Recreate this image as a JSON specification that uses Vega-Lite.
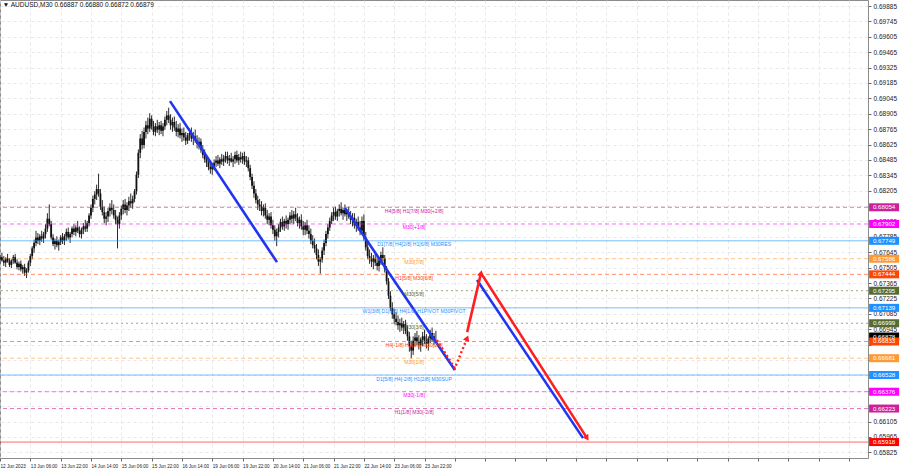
{
"$schema": "https://vega.github.io/schema/vega-lite/v6.json",
"width": 868, "height": 458,
"autosize": {"type": "none"},
"padding": {"left": 0, "top": 0, "right": 32, "bottom": 10},
"background": "#ffffff",
"config": {
 "view": {"stroke": "#8c8c8c", "strokeWidth": 1},
 "font": "Liberation Sans",
 "axis": {"labelFont": "Liberation Sans", "labelFontSize": 6.5, "labelColor": "#222222", "tickColor": "#666666", "tickSize": 3, "domain": false, "gridColor": "#dedede", "gridDash": [3, 3], "gridWidth": 0.7, "labelOverlap": false, "labelSeparation": 0, "labelBound": false, "labelFlush": false}
},
"datasets": {
 "candles": [
{"i":0,"o":0.6758,"h":0.6762,"l":0.6754,"c":0.6760},
{"i":2,"o":0.6760,"h":0.6764,"l":0.6756,"c":0.6757},
{"i":4,"o":0.6757,"h":0.6761,"l":0.6752,"c":0.6755},
{"i":6,"o":0.6755,"h":0.6760,"l":0.6751,"c":0.6759},
{"i":8,"o":0.6759,"h":0.6763,"l":0.6755,"c":0.6756},
{"i":10,"o":0.6756,"h":0.6759,"l":0.6751,"c":0.6753},
{"i":12,"o":0.6753,"h":0.6758,"l":0.6750,"c":0.6757},
{"i":14,"o":0.6757,"h":0.6762,"l":0.6754,"c":0.6760},
{"i":16,"o":0.6760,"h":0.6763,"l":0.6754,"c":0.6755},
{"i":18,"o":0.6755,"h":0.6758,"l":0.6749,"c":0.6751},
{"i":20,"o":0.6751,"h":0.6756,"l":0.6748,"c":0.6754},
{"i":22,"o":0.6754,"h":0.6757,"l":0.6747,"c":0.6749},
{"i":24,"o":0.6749,"h":0.6753,"l":0.6745,"c":0.6751},
{"i":26,"o":0.6751,"h":0.6754,"l":0.6743,"c":0.6746},
{"i":28,"o":0.6746,"h":0.6750,"l":0.6741,"c":0.6748},
{"i":30,"o":0.6748,"h":0.6757,"l":0.6746,"c":0.6755},
{"i":32,"o":0.6755,"h":0.6763,"l":0.6752,"c":0.6761},
{"i":34,"o":0.6761,"h":0.6770,"l":0.6758,"c":0.6768},
{"i":36,"o":0.6768,"h":0.6776,"l":0.6764,"c":0.6773},
{"i":38,"o":0.6773,"h":0.6784,"l":0.6770,"c":0.6778},
{"i":40,"o":0.6778,"h":0.6782,"l":0.6772,"c":0.6775},
{"i":42,"o":0.6775,"h":0.6781,"l":0.6771,"c":0.6779},
{"i":44,"o":0.6779,"h":0.6784,"l":0.6774,"c":0.6777},
{"i":46,"o":0.6777,"h":0.6783,"l":0.6773,"c":0.6781},
{"i":48,"o":0.6781,"h":0.6790,"l":0.6777,"c":0.6786},
{"i":50,"o":0.6786,"h":0.6800,"l":0.6783,"c":0.6795},
{"i":52,"o":0.6795,"h":0.6808,"l":0.6788,"c":0.6790},
{"i":54,"o":0.6790,"h":0.6793,"l":0.6776,"c":0.6778},
{"i":56,"o":0.6778,"h":0.6781,"l":0.6770,"c":0.6772},
{"i":58,"o":0.6772,"h":0.6777,"l":0.6767,"c":0.6775},
{"i":60,"o":0.6775,"h":0.6779,"l":0.6769,"c":0.6771},
{"i":62,"o":0.6771,"h":0.6776,"l":0.6766,"c":0.6774},
{"i":64,"o":0.6774,"h":0.6780,"l":0.6771,"c":0.6778},
{"i":66,"o":0.6778,"h":0.6782,"l":0.6772,"c":0.6775},
{"i":68,"o":0.6775,"h":0.6781,"l":0.6771,"c":0.6779},
{"i":70,"o":0.6779,"h":0.6786,"l":0.6775,"c":0.6783},
{"i":72,"o":0.6783,"h":0.6787,"l":0.6776,"c":0.6778},
{"i":74,"o":0.6778,"h":0.6783,"l":0.6773,"c":0.6781},
{"i":76,"o":0.6781,"h":0.6788,"l":0.6778,"c":0.6786},
{"i":78,"o":0.6786,"h":0.6790,"l":0.6780,"c":0.6783},
{"i":80,"o":0.6783,"h":0.6789,"l":0.6779,"c":0.6787},
{"i":82,"o":0.6787,"h":0.6793,"l":0.6782,"c":0.6784},
{"i":84,"o":0.6784,"h":0.6788,"l":0.6778,"c":0.6781},
{"i":86,"o":0.6781,"h":0.6787,"l":0.6777,"c":0.6785},
{"i":88,"o":0.6785,"h":0.6791,"l":0.6781,"c":0.6788},
{"i":90,"o":0.6788,"h":0.6794,"l":0.6783,"c":0.6786},
{"i":92,"o":0.6786,"h":0.6793,"l":0.6783,"c":0.6791},
{"i":94,"o":0.6791,"h":0.6800,"l":0.6788,"c":0.6798},
{"i":96,"o":0.6798,"h":0.6808,"l":0.6795,"c":0.6805},
{"i":98,"o":0.6805,"h":0.6816,"l":0.6801,"c":0.6813},
{"i":100,"o":0.6813,"h":0.6820,"l":0.6808,"c":0.6817},
{"i":102,"o":0.6817,"h":0.6826,"l":0.6812,"c":0.6822},
{"i":104,"o":0.6822,"h":0.6836,"l":0.6815,"c":0.6818},
{"i":106,"o":0.6818,"h":0.6822,"l":0.6803,"c":0.6806},
{"i":108,"o":0.6806,"h":0.6812,"l":0.6798,"c":0.6801},
{"i":110,"o":0.6801,"h":0.6806,"l":0.6791,"c":0.6795},
{"i":112,"o":0.6795,"h":0.6801,"l":0.6789,"c":0.6797},
{"i":114,"o":0.6797,"h":0.6805,"l":0.6792,"c":0.6802},
{"i":116,"o":0.6802,"h":0.6809,"l":0.6797,"c":0.6805},
{"i":118,"o":0.6805,"h":0.6812,"l":0.6799,"c":0.6803},
{"i":120,"o":0.6803,"h":0.6808,"l":0.6795,"c":0.6798},
{"i":122,"o":0.6798,"h":0.6803,"l":0.6790,"c":0.6794},
{"i":124,"o":0.6794,"h":0.6797,"l":0.6768,"c":0.6790},
{"i":126,"o":0.6790,"h":0.6801,"l":0.6786,"c":0.6798},
{"i":128,"o":0.6798,"h":0.6807,"l":0.6794,"c":0.6804},
{"i":130,"o":0.6804,"h":0.6812,"l":0.6799,"c":0.6808},
{"i":132,"o":0.6808,"h":0.6813,"l":0.6800,"c":0.6803},
{"i":134,"o":0.6803,"h":0.6810,"l":0.6798,"c":0.6807},
{"i":136,"o":0.6807,"h":0.6815,"l":0.6802,"c":0.6811},
{"i":138,"o":0.6811,"h":0.6818,"l":0.6805,"c":0.6809},
{"i":140,"o":0.6809,"h":0.6816,"l":0.6804,"c":0.6813},
{"i":142,"o":0.6813,"h":0.6822,"l":0.6810,"c":0.6820},
{"i":144,"o":0.6820,"h":0.6838,"l":0.6817,"c":0.6835},
{"i":146,"o":0.6835,"h":0.6858,"l":0.6832,"c":0.6855},
{"i":148,"o":0.6855,"h":0.6872,"l":0.6850,"c":0.6868},
{"i":150,"o":0.6868,"h":0.6875,"l":0.6858,"c":0.6862},
{"i":152,"o":0.6862,"h":0.6878,"l":0.6859,"c":0.6874},
{"i":154,"o":0.6874,"h":0.6884,"l":0.6868,"c":0.6880},
{"i":156,"o":0.6880,"h":0.6887,"l":0.6872,"c":0.6877},
{"i":158,"o":0.6877,"h":0.6891,"l":0.6874,"c":0.6886},
{"i":160,"o":0.6886,"h":0.6889,"l":0.6876,"c":0.6879},
{"i":162,"o":0.6879,"h":0.6884,"l":0.6871,"c":0.6874},
{"i":164,"o":0.6874,"h":0.6882,"l":0.6870,"c":0.6879},
{"i":166,"o":0.6879,"h":0.6885,"l":0.6873,"c":0.6876},
{"i":168,"o":0.6876,"h":0.6883,"l":0.6871,"c":0.6880},
{"i":170,"o":0.6880,"h":0.6884,"l":0.6872,"c":0.6875},
{"i":172,"o":0.6875,"h":0.6882,"l":0.6870,"c":0.6879},
{"i":174,"o":0.6879,"h":0.6888,"l":0.6876,"c":0.6885},
{"i":176,"o":0.6885,"h":0.6893,"l":0.6880,"c":0.6889},
{"i":178,"o":0.6889,"h":0.6896,"l":0.6882,"c":0.6885},
{"i":180,"o":0.6885,"h":0.6890,"l":0.6876,"c":0.6880},
{"i":182,"o":0.6880,"h":0.6887,"l":0.6874,"c":0.6883},
{"i":184,"o":0.6883,"h":0.6888,"l":0.6875,"c":0.6878},
{"i":186,"o":0.6878,"h":0.6884,"l":0.6870,"c":0.6874},
{"i":188,"o":0.6874,"h":0.6881,"l":0.6869,"c":0.6877},
{"i":190,"o":0.6877,"h":0.6882,"l":0.6868,"c":0.6871},
{"i":192,"o":0.6871,"h":0.6877,"l":0.6865,"c":0.6873},
{"i":194,"o":0.6873,"h":0.6878,"l":0.6866,"c":0.6869},
{"i":196,"o":0.6869,"h":0.6874,"l":0.6862,"c":0.6866},
{"i":198,"o":0.6866,"h":0.6873,"l":0.6863,"c":0.6871},
{"i":200,"o":0.6871,"h":0.6877,"l":0.6866,"c":0.6873},
{"i":202,"o":0.6873,"h":0.6878,"l":0.6865,"c":0.6868},
{"i":204,"o":0.6868,"h":0.6874,"l":0.6862,"c":0.6870},
{"i":206,"o":0.6870,"h":0.6876,"l":0.6864,"c":0.6866},
{"i":208,"o":0.6866,"h":0.6871,"l":0.6859,"c":0.6863},
{"i":210,"o":0.6863,"h":0.6869,"l":0.6858,"c":0.6865},
{"i":212,"o":0.6865,"h":0.6868,"l":0.6855,"c":0.6858},
{"i":214,"o":0.6858,"h":0.6862,"l":0.6850,"c":0.6853},
{"i":216,"o":0.6853,"h":0.6858,"l":0.6846,"c":0.6849},
{"i":218,"o":0.6849,"h":0.6853,"l":0.6842,"c":0.6846},
{"i":220,"o":0.6846,"h":0.6850,"l":0.6839,"c":0.6842},
{"i":222,"o":0.6842,"h":0.6847,"l":0.6836,"c":0.6840},
{"i":224,"o":0.6840,"h":0.6845,"l":0.6835,"c":0.6843},
{"i":226,"o":0.6843,"h":0.6849,"l":0.6839,"c":0.6846},
{"i":228,"o":0.6846,"h":0.6852,"l":0.6842,"c":0.6848},
{"i":230,"o":0.6848,"h":0.6853,"l":0.6843,"c":0.6845},
{"i":232,"o":0.6845,"h":0.6851,"l":0.6841,"c":0.6849},
{"i":234,"o":0.6849,"h":0.6854,"l":0.6844,"c":0.6847},
{"i":236,"o":0.6847,"h":0.6853,"l":0.6843,"c":0.6850},
{"i":238,"o":0.6850,"h":0.6856,"l":0.6846,"c":0.6852},
{"i":240,"o":0.6852,"h":0.6856,"l":0.6845,"c":0.6848},
{"i":242,"o":0.6848,"h":0.6853,"l":0.6843,"c":0.6850},
{"i":244,"o":0.6850,"h":0.6855,"l":0.6846,"c":0.6847},
{"i":246,"o":0.6847,"h":0.6852,"l":0.6842,"c":0.6849},
{"i":248,"o":0.6849,"h":0.6856,"l":0.6845,"c":0.6853},
{"i":250,"o":0.6853,"h":0.6857,"l":0.6846,"c":0.6848},
{"i":252,"o":0.6848,"h":0.6854,"l":0.6844,"c":0.6851},
{"i":254,"o":0.6851,"h":0.6856,"l":0.6846,"c":0.6849},
{"i":256,"o":0.6849,"h":0.6855,"l":0.6845,"c":0.6852},
{"i":258,"o":0.6852,"h":0.6856,"l":0.6844,"c":0.6847},
{"i":260,"o":0.6847,"h":0.6852,"l":0.6842,"c":0.6848},
{"i":262,"o":0.6848,"h":0.6851,"l":0.6838,"c":0.6841},
{"i":264,"o":0.6841,"h":0.6844,"l":0.6830,"c":0.6833},
{"i":266,"o":0.6833,"h":0.6836,"l":0.6822,"c":0.6825},
{"i":268,"o":0.6825,"h":0.6829,"l":0.6814,"c":0.6818},
{"i":270,"o":0.6818,"h":0.6822,"l":0.6809,"c":0.6812},
{"i":272,"o":0.6812,"h":0.6816,"l":0.6803,"c":0.6808},
{"i":274,"o":0.6808,"h":0.6813,"l":0.6802,"c":0.6806},
{"i":276,"o":0.6806,"h":0.6811,"l":0.6798,"c":0.6802},
{"i":278,"o":0.6802,"h":0.6808,"l":0.6797,"c":0.6805},
{"i":280,"o":0.6805,"h":0.6809,"l":0.6795,"c":0.6798},
{"i":282,"o":0.6798,"h":0.6803,"l":0.6790,"c":0.6794},
{"i":284,"o":0.6794,"h":0.6800,"l":0.6789,"c":0.6797},
{"i":286,"o":0.6797,"h":0.6801,"l":0.6786,"c":0.6789},
{"i":288,"o":0.6789,"h":0.6794,"l":0.6781,"c":0.6785},
{"i":290,"o":0.6785,"h":0.6789,"l":0.6775,"c":0.6779},
{"i":292,"o":0.6779,"h":0.6786,"l":0.6770,"c":0.6783},
{"i":294,"o":0.6783,"h":0.6790,"l":0.6778,"c":0.6787},
{"i":296,"o":0.6787,"h":0.6795,"l":0.6783,"c":0.6792},
{"i":298,"o":0.6792,"h":0.6797,"l":0.6785,"c":0.6788},
{"i":300,"o":0.6788,"h":0.6795,"l":0.6784,"c":0.6793},
{"i":302,"o":0.6793,"h":0.6798,"l":0.6786,"c":0.6790},
{"i":304,"o":0.6790,"h":0.6796,"l":0.6785,"c":0.6794},
{"i":306,"o":0.6794,"h":0.6801,"l":0.6790,"c":0.6798},
{"i":308,"o":0.6798,"h":0.6803,"l":0.6791,"c":0.6795},
{"i":310,"o":0.6795,"h":0.6802,"l":0.6790,"c":0.6799},
{"i":312,"o":0.6799,"h":0.6805,"l":0.6793,"c":0.6796},
{"i":314,"o":0.6796,"h":0.6800,"l":0.6788,"c":0.6791},
{"i":316,"o":0.6791,"h":0.6797,"l":0.6786,"c":0.6794},
{"i":318,"o":0.6794,"h":0.6799,"l":0.6785,"c":0.6788},
{"i":320,"o":0.6788,"h":0.6793,"l":0.6780,"c":0.6785},
{"i":322,"o":0.6785,"h":0.6792,"l":0.6780,"c":0.6789},
{"i":324,"o":0.6789,"h":0.6794,"l":0.6781,"c":0.6784},
{"i":326,"o":0.6784,"h":0.6789,"l":0.6777,"c":0.6781},
{"i":328,"o":0.6781,"h":0.6786,"l":0.6772,"c":0.6775},
{"i":330,"o":0.6775,"h":0.6780,"l":0.6768,"c":0.6771},
{"i":332,"o":0.6771,"h":0.6777,"l":0.6764,"c":0.6768},
{"i":334,"o":0.6768,"h":0.6772,"l":0.6758,"c":0.6762},
{"i":336,"o":0.6762,"h":0.6767,"l":0.6752,"c":0.6756},
{"i":338,"o":0.6756,"h":0.6760,"l":0.6745,"c":0.6758},
{"i":340,"o":0.6758,"h":0.6769,"l":0.6755,"c":0.6766},
{"i":342,"o":0.6766,"h":0.6776,"l":0.6762,"c":0.6773},
{"i":344,"o":0.6773,"h":0.6784,"l":0.6770,"c":0.6781},
{"i":346,"o":0.6781,"h":0.6790,"l":0.6777,"c":0.6787},
{"i":348,"o":0.6787,"h":0.6796,"l":0.6784,"c":0.6793},
{"i":350,"o":0.6793,"h":0.6801,"l":0.6790,"c":0.6798},
{"i":352,"o":0.6798,"h":0.6805,"l":0.6793,"c":0.6801},
{"i":354,"o":0.6801,"h":0.6806,"l":0.6794,"c":0.6797},
{"i":356,"o":0.6797,"h":0.6804,"l":0.6793,"c":0.6802},
{"i":358,"o":0.6802,"h":0.6808,"l":0.6797,"c":0.6804},
{"i":360,"o":0.6804,"h":0.6810,"l":0.6798,"c":0.6800},
{"i":362,"o":0.6800,"h":0.6805,"l":0.6794,"c":0.6803},
{"i":364,"o":0.6803,"h":0.6808,"l":0.6797,"c":0.6799},
{"i":366,"o":0.6799,"h":0.6804,"l":0.6793,"c":0.6801},
{"i":368,"o":0.6801,"h":0.6806,"l":0.6795,"c":0.6797},
{"i":370,"o":0.6797,"h":0.6802,"l":0.6790,"c":0.6794},
{"i":372,"o":0.6794,"h":0.6800,"l":0.6788,"c":0.6796},
{"i":374,"o":0.6796,"h":0.6800,"l":0.6786,"c":0.6789},
{"i":376,"o":0.6789,"h":0.6795,"l":0.6783,"c":0.6792},
{"i":378,"o":0.6792,"h":0.6797,"l":0.6784,"c":0.6787},
{"i":380,"o":0.6787,"h":0.6793,"l":0.6780,"c":0.6784},
{"i":382,"o":0.6784,"h":0.6797,"l":0.6781,"c":0.6793},
{"i":384,"o":0.6793,"h":0.6799,"l":0.6775,"c":0.6778},
{"i":386,"o":0.6778,"h":0.6783,"l":0.6766,"c":0.6769},
{"i":388,"o":0.6769,"h":0.6773,"l":0.6758,"c":0.6761},
{"i":390,"o":0.6761,"h":0.6767,"l":0.6754,"c":0.6758},
{"i":392,"o":0.6758,"h":0.6764,"l":0.6751,"c":0.6756},
{"i":394,"o":0.6756,"h":0.6762,"l":0.6749,"c":0.6759},
{"i":396,"o":0.6759,"h":0.6764,"l":0.6752,"c":0.6755},
{"i":398,"o":0.6755,"h":0.6761,"l":0.6748,"c":0.6752},
{"i":400,"o":0.6752,"h":0.6760,"l":0.6747,"c":0.6757},
{"i":402,"o":0.6757,"h":0.6765,"l":0.6753,"c":0.6762},
{"i":404,"o":0.6762,"h":0.6769,"l":0.6756,"c":0.6759},
{"i":406,"o":0.6759,"h":0.6762,"l":0.6746,"c":0.6749},
{"i":408,"o":0.6749,"h":0.6752,"l":0.6735,"c":0.6738},
{"i":410,"o":0.6738,"h":0.6741,"l":0.6722,"c":0.6725},
{"i":412,"o":0.6725,"h":0.6729,"l":0.6711,"c":0.6714},
{"i":414,"o":0.6714,"h":0.6719,"l":0.6704,"c":0.6708},
{"i":416,"o":0.6708,"h":0.6713,"l":0.6699,"c":0.6704},
{"i":418,"o":0.6704,"h":0.6710,"l":0.6698,"c":0.6701},
{"i":420,"o":0.6701,"h":0.6707,"l":0.6694,"c":0.6698},
{"i":422,"o":0.6698,"h":0.6704,"l":0.6692,"c":0.6700},
{"i":424,"o":0.6700,"h":0.6705,"l":0.6693,"c":0.6696},
{"i":426,"o":0.6696,"h":0.6702,"l":0.6690,"c":0.6699},
{"i":428,"o":0.6699,"h":0.6703,"l":0.6690,"c":0.6693},
{"i":430,"o":0.6693,"h":0.6698,"l":0.6684,"c":0.6688},
{"i":432,"o":0.6688,"h":0.6692,"l":0.6674,"c":0.6679},
{"i":434,"o":0.6679,"h":0.6684,"l":0.6668,"c":0.6675},
{"i":436,"o":0.6675,"h":0.6688,"l":0.6671,"c":0.6684},
{"i":438,"o":0.6684,"h":0.6691,"l":0.6679,"c":0.6687},
{"i":440,"o":0.6687,"h":0.6693,"l":0.6680,"c":0.6683},
{"i":442,"o":0.6683,"h":0.6689,"l":0.6676,"c":0.6680},
{"i":444,"o":0.6680,"h":0.6687,"l":0.6674,"c":0.6685},
{"i":446,"o":0.6685,"h":0.6692,"l":0.6679,"c":0.6688},
{"i":448,"o":0.6688,"h":0.6694,"l":0.6681,"c":0.6684},
{"i":450,"o":0.6684,"h":0.6690,"l":0.6677,"c":0.6681},
{"i":452,"o":0.6681,"h":0.6688,"l":0.6675,"c":0.6686},
{"i":454,"o":0.6686,"h":0.6694,"l":0.6682,"c":0.6691},
{"i":456,"o":0.6691,"h":0.6696,"l":0.6683,"c":0.6685},
{"i":458,"o":0.6685,"h":0.6691,"l":0.6680,"c":0.6688},
{"i":460,"o":0.6688,"h":0.6693,"l":0.6682,"c":0.6688}
 ],
 "levels": [
{"p":0.68054,"k":"+2/8","t":"H4[5/8] H1[7/8] M30[+2/8]"},
{"p":0.67902,"k":"+1/8","t":"M30[+1/8]"},
{"p":0.67749,"k":"RES","t":"D1[7/8] H4[2/8] H1[6/8] M30RES"},
{"p":0.67586,"k":"7/8","t":"M30[7/8]"},
{"p":0.67444,"k":"6/8","t":"H1[5/8] M30[6/8]"},
{"p":0.67295,"k":"5/8","t":"M30[5/8]"},
{"p":0.67139,"k":"PIVOT","t":"W1[3/8] D1[6/8] H4[1/8] H1PIVOT M30PIVOT"},
{"p":0.66999,"k":"3/8","t":"M30[3/8]"},
{"p":0.66878,"k":"BID","t":""},
{"p":0.66833,"k":"2/8","t":"H4[-1/8] H1[3/8] M30[2/8]"},
{"p":0.66681,"k":"1/8","t":"M30[1/8]"},
{"p":0.66528,"k":"SUP","t":"D1[5/8] H4[-2/8] H1[2/8] M30SUP"},
{"p":0.66376,"k":"-1/8","t":"M30[-1/8]"},
{"p":0.66223,"k":"-2/8","t":"H1[1/8] M30[-2/8]"},
{"p":0.65918,"k":"TGT","t":""}
 ],
 "blue": [
{"s":"b1","i":179.4,"p":0.6902},{"s":"b1","i":292.3,"p":0.67555},
{"s":"b2","i":364,"p":0.68047},{"s":"b2","i":480,"p":0.66573},
{"s":"b3","i":503.4,"p":0.67392},{"s":"b3","i":615.3,"p":0.65954}
 ],
 "redsolid": [
{"s":"r1","i":493,"p":0.66918},{"s":"r1","i":507.6,"p":0.67455},
{"s":"r2","i":507.6,"p":0.67455},{"s":"r2","i":619.5,"p":0.65954}
 ],
 "reddot": [
{"s":"d1","i":461,"p":0.66846},{"s":"d1","i":480,"p":0.66591},{"s":"d1","i":493,"p":0.66864}
 ],
 "heads": [
{"s":"d1","i":493,"p":0.66864},{"s":"r1","i":507.6,"p":0.67455},{"s":"r2","i":619.5,"p":0.65954}
 ],
 "title": [{"t":"▼ AUDUSD,M30  0.66887 0.66880 0.66872 0.66879"}]
},
"layer": [
 {
  "data": {"name": "candles"},
  "mark": {"type": "rule", "color": "#2a2a2a", "strokeWidth": 1},
  "encoding": {
   "x": {"field": "i", "type": "quantitative", "scale": {"domain": [0, 916], "nice": false, "zero": false},
     "axis": {"title": null, "tickCount": 500, "labelFontSize": 4.6, "values": [0,32,64,96,128,160,192,224,256,288,320,352,384,416,448,480,512,544,576,608,640,672,704,736,768,800,832,864,896],
       "labelExpr": "datum.value <= 448 ? ['12 Jun 2023','13 Jun 06:00','13 Jun 22:00','14 Jun 14:00','15 Jun 06:00','15 Jun 22:00','16 Jun 14:00','19 Jun 06:00','19 Jun 22:00','20 Jun 14:00','21 Jun 06:00','21 Jun 22:00','22 Jun 14:00','23 Jun 06:00','23 Jun 22:00'][round(datum.value/32)] : ''",
       "labelAlign": "left", "labelBaseline": "top", "labelPadding": 2, "labelOverlap": false, "labelSeparation": 0, "labelBound": false, "labelFlush": false, "grid": true}},
   "y": {"field": "l", "type": "quantitative", "scale": {"domain": [0.65773, 0.6994], "nice": false, "zero": false},
     "axis": {"title": null, "orient": "right", "format": ".5f", "tickCount": 500, "labelPadding": 2, "labelOverlap": false, "labelSeparation": 0, "labelBound": false, "labelFlush": false, "grid": true,
       "labelExpr": "indexof(['0.68065','0.66805','0.66665','0.66525','0.66385','0.66245'], datum.label) >= 0 ? '' : datum.label",
       "values": [0.69885,0.69745,0.69605,0.69465,0.69325,0.69185,0.69045,0.68905,0.68765,0.68625,0.68485,0.68345,0.68205,0.68065,0.67925,0.67785,0.67645,0.67505,0.67365,0.67225,0.67085,0.66945,0.66805,0.66665,0.66525,0.66385,0.66245,0.66105,0.65965,0.65825]}},
   "y2": {"field": "h"}
  }
 },
 {
  "data": {"name": "candles"},
  "mark": {"type": "rule", "color": "#111111", "strokeWidth": 1.8},
  "encoding": {
   "x": {"field": "i", "type": "quantitative", "scale": {"domain": [0, 916], "nice": false, "zero": false}},
   "y": {"field": "o", "type": "quantitative", "scale": {"domain": [0.65773, 0.6994], "nice": false, "zero": false}},
   "y2": {"field": "c"}
  }
 },
 {
  "data": {"name": "levels"},
  "transform": [{"filter": "datum.k != 'BID'"}],
  "mark": {"type": "rule", "strokeWidth": 1, "strokeOpacity": 0.6},
  "encoding": {
   "y": {"field": "p", "type": "quantitative", "scale": {"domain": [0.65773, 0.6994], "nice": false, "zero": false}},
   "color": {"field": "k", "type": "nominal", "legend": null,
     "scale": {"domain": ["+2/8","+1/8","RES","7/8","6/8","5/8","PIVOT","3/8","BID","2/8","1/8","SUP","-1/8","-2/8","TGT"],
       "range": ["#CC2299","#FF00FF","#1E90FF","#FF9933","#FF4500","#556B2F","#1E90FF","#556B2F","#000000","#FF4500","#FF9933","#1E90FF","#FF00FF","#CC2299","#FF0000"]}},
   "strokeDash": {"field": "k", "type": "nominal", "legend": null,
     "scale": {"domain": ["+2/8","+1/8","RES","7/8","6/8","5/8","PIVOT","3/8","BID","2/8","1/8","SUP","-1/8","-2/8","TGT"],
       "range": [[4,3],[4,3],[1,0],[4,3],[4,3],[2,3],[1,0],[2,3],[1,0],[4,3],[4,3],[1,0],[4,3],[4,3],[1,0]]}}
  }
 },
 {
  "data": {"name": "blue"},
  "mark": {"type": "line", "color": "#1f35f0", "strokeWidth": 2.6},
  "encoding": {
   "x": {"field": "i", "type": "quantitative", "scale": {"domain": [0, 916], "nice": false, "zero": false}},
   "y": {"field": "p", "type": "quantitative", "scale": {"domain": [0.65773, 0.6994], "nice": false, "zero": false}},
   "detail": {"field": "s"}
  }
 },
 {
  "data": {"name": "redsolid"},
  "mark": {"type": "line", "color": "#ff1f1f", "strokeWidth": 2.6},
  "encoding": {
   "x": {"field": "i", "type": "quantitative", "scale": {"domain": [0, 916], "nice": false, "zero": false}},
   "y": {"field": "p", "type": "quantitative", "scale": {"domain": [0.65773, 0.6994], "nice": false, "zero": false}},
   "detail": {"field": "s"}
  }
 },
 {
  "data": {"name": "reddot"},
  "mark": {"type": "line", "color": "#ff1f1f", "strokeWidth": 2.4, "strokeDash": [2, 2.5]},
  "encoding": {
   "x": {"field": "i", "type": "quantitative", "scale": {"domain": [0, 916], "nice": false, "zero": false}},
   "y": {"field": "p", "type": "quantitative", "scale": {"domain": [0.65773, 0.6994], "nice": false, "zero": false}},
   "detail": {"field": "s"}
  }
 },
 {
  "data": {"name": "heads"},
  "transform": [{"filter": "datum.s == 'd1'"}],
  "mark": {"type": "point", "shape": "triangle-up", "filled": true, "color": "#ff1f1f", "opacity": 1, "size": 45, "angle": 22},
  "encoding": {
   "x": {"field": "i", "type": "quantitative", "scale": {"domain": [0, 916], "nice": false, "zero": false}},
   "y": {"field": "p", "type": "quantitative", "scale": {"domain": [0.65773, 0.6994], "nice": false, "zero": false}}
  }
 },
 {
  "data": {"name": "heads"},
  "transform": [{"filter": "datum.s == 'r1'"}],
  "mark": {"type": "point", "shape": "triangle-up", "filled": true, "color": "#ff1f1f", "opacity": 1, "size": 45, "angle": 14},
  "encoding": {
   "x": {"field": "i", "type": "quantitative", "scale": {"domain": [0, 916], "nice": false, "zero": false}},
   "y": {"field": "p", "type": "quantitative", "scale": {"domain": [0.65773, 0.6994], "nice": false, "zero": false}}
  }
 },
 {
  "data": {"name": "heads"},
  "transform": [{"filter": "datum.s == 'r2'"}],
  "mark": {"type": "point", "shape": "triangle-up", "filled": true, "color": "#ff1f1f", "opacity": 1, "size": 45, "angle": 147},
  "encoding": {
   "x": {"field": "i", "type": "quantitative", "scale": {"domain": [0, 916], "nice": false, "zero": false}},
   "y": {"field": "p", "type": "quantitative", "scale": {"domain": [0.65773, 0.6994], "nice": false, "zero": false}}
  }
 },
 {
  "data": {"name": "levels"},
  "transform": [{"filter": "datum.t != ''"}],
  "mark": {"type": "text", "fontSize": 5.1, "font": "Liberation Sans", "align": "center", "baseline": "middle", "dy": 3.5},
  "encoding": {
   "x": {"datum": 437, "type": "quantitative", "scale": {"domain": [0, 916], "nice": false, "zero": false}},
   "y": {"field": "p", "type": "quantitative", "scale": {"domain": [0.65773, 0.6994], "nice": false, "zero": false}},
   "text": {"field": "t"},
   "color": {"field": "k", "type": "nominal", "legend": null}
  }
 },
 {
  "data": {"name": "levels"},
  "mark": {"type": "tick", "orient": "horizontal", "size": 30, "thickness": 8, "opacity": 1},
  "encoding": {
   "x": {"datum": 933, "type": "quantitative", "scale": {"domain": [0, 916], "nice": false, "zero": false}},
   "y": {"field": "p", "type": "quantitative", "scale": {"domain": [0.65773, 0.6994], "nice": false, "zero": false}},
   "color": {"field": "k", "type": "nominal", "legend": null}
  }
 },
 {
  "data": {"name": "levels"},
  "mark": {"type": "text", "fontSize": 6.2, "font": "Liberation Sans", "color": "#ffffff", "align": "center", "baseline": "middle"},
  "encoding": {
   "x": {"datum": 933, "type": "quantitative", "scale": {"domain": [0, 916], "nice": false, "zero": false}},
   "y": {"field": "p", "type": "quantitative", "scale": {"domain": [0.65773, 0.6994], "nice": false, "zero": false}},
   "text": {"field": "p", "type": "quantitative", "format": ".5f"}
  }
 },
 {
  "data": {"name": "title"},
  "mark": {"type": "text", "fontSize": 6.5, "font": "Liberation Sans", "color": "#111111", "align": "left", "baseline": "middle"},
  "encoding": {
   "x": {"datum": 3, "type": "quantitative", "scale": {"domain": [0, 916], "nice": false, "zero": false}},
   "y": {"datum": 0.69895, "type": "quantitative", "scale": {"domain": [0.65773, 0.6994], "nice": false, "zero": false}},
   "text": {"field": "t"}
  }
 }
]
}
